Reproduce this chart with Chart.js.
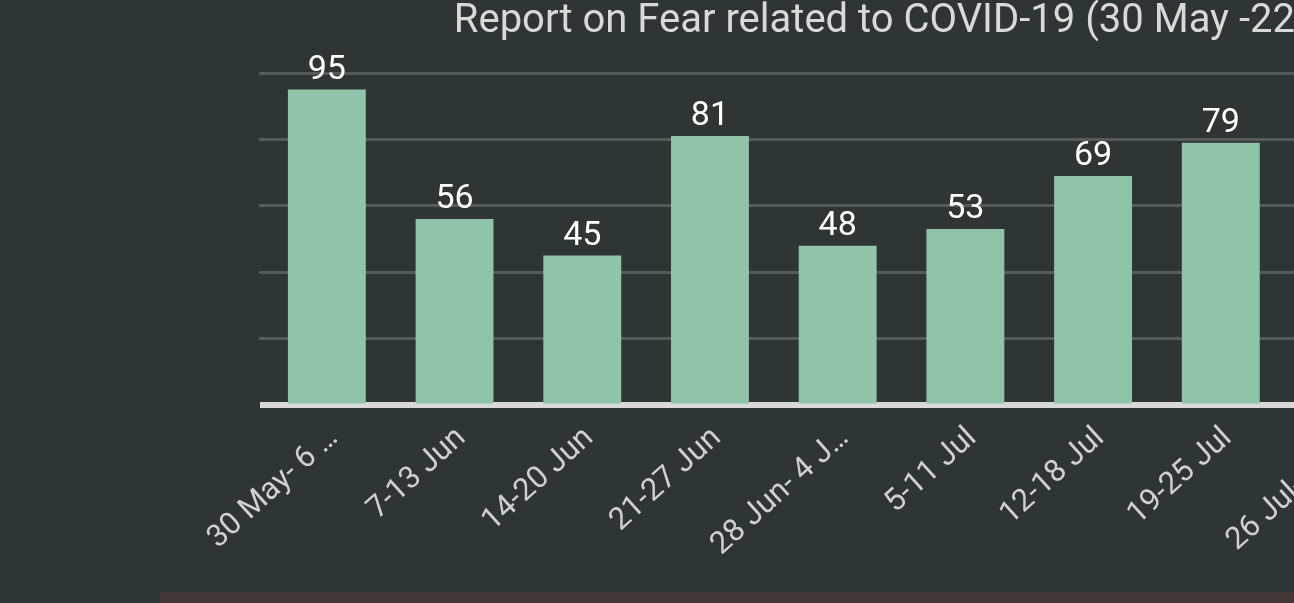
<!DOCTYPE html>
<html>
<head>
<meta charset="utf-8">
<script src="https://cdn.jsdelivr.net/npm/chart.js@4.4.0/dist/chart.umd.min.js"></script>
<style>
  html, body { margin: 0; padding: 0; background: #2f3435; overflow: hidden; width: 1294px; height: 603px; }
  #wrap { position: absolute; left: 0; top: 0; width: 1584px; height: 603px; }
  #strip { position: absolute; left: 160px; top: 592px; width: 1200px; height: 11px; background: #433636; }
</style>
</head>
<body>
<div id="wrap"><canvas id="chart"></canvas></div>
<div id="strip"></div>
<script>
const categories = ['30 May- 6 Jun', '7-13 Jun', '14-20 Jun', '21-27 Jun', '28 Jun- 4 Jul',
    '5-11 Jul', '12-18 Jul', '19-25 Jul', '26 Jul- 1 Aug'];
const fearValues = [95, 56, 45, 81, 48, 53, 69, 79, null];
const yTicks = [0, 20, 40, 60, 80, 100];

const titleText = 'Report on Fear related to COVID-19 (30 May -22 Aug)';
const labelFont = '31px Roboto';
const maxLabelW = 174;

const measureCtx = document.createElement('canvas').getContext('2d');

function shorten(txt) {
    measureCtx.font = labelFont;
    if (measureCtx.measureText(txt).width <= maxLabelW) return txt;
    let s = txt;
    while (s.length > 1 && measureCtx.measureText(s + '…').width > maxLabelW) {
        s = s.slice(0, -1);
    }
    return s + '…';
}

// numbers above the bars
const barValues = {
    id: 'barValues',
    afterDatasetsDraw(chart) {
        const ctx = chart.ctx;
        const meta = chart.getDatasetMeta(0);
        ctx.save();
        ctx.font = '34px Roboto';
        ctx.fillStyle = '#ffffff';
        ctx.textAlign = 'center';
        ctx.textBaseline = 'alphabetic';
        meta.data.forEach((bar, i) => {
            const v = fearValues[i];
            if (v === null) return;
            ctx.fillText(v, bar.x, bar.y - 11);
        });
        ctx.restore();
    }
};

const ctx = document.getElementById('chart').getContext('2d');
new Chart(ctx, {
    type: 'bar',
    data: {
        labels: categories,
        datasets: [{
            label: 'Fear',
            data: fearValues,
            backgroundColor: '#8fc4aa',
            borderWidth: 0,
            barPercentage: 0.61,
            categoryPercentage: 1.0
        }]
    },
    options: {
        responsive: true,
        maintainAspectRatio: false,
        animation: false,
        layout: {
            padding: { left: 259, right: 0, top: 0, bottom: 0 }
        },
        scales: {
            x: {
                grid: { display: false },
                border: { display: true, color: '#d9d9d9', width: 6 },
                afterFit: s => { s.height = 198; },
                ticks: {
                    color: '#d0d0d0',
                    font: { family: 'Roboto', size: 31 },
                    minRotation: 42,
                    maxRotation: 42,
                    autoSkip: false,
                    padding: 7,
                    labelOffset: 7,
                    callback: (v, i) => shorten(categories[i])
                }
            },
            y: {
                min: 0,
                max: 100,
                afterBuildTicks: s => { s.ticks = yTicks.map(v => ({ value: v })); },
                ticks: { display: false },
                border: { display: false },
                grid: {
                    color: c => c.tick && c.tick.value === 0 ? 'rgba(0,0,0,0)' : '#555a5b',
                    lineWidth: 3,
                    tickLength: 4
                }
            }
        },
        plugins: {
            legend: {
                display: true,
                position: 'right',
                labels: { color: '#d0d0d0', boxWidth: 78, font: { family: 'Roboto', size: 30 } }
            },
            tooltip: { enabled: false },
            title: {
                display: true,
                text: titleText,
                color: '#d9d9d9',
                font: { family: 'Roboto', size: 40, weight: 'normal', lineHeight: 1 },
                padding: { top: 2, bottom: 31 }
            }
        }
    },
    plugins: [barValues]
});
</script>
</body>
</html>
